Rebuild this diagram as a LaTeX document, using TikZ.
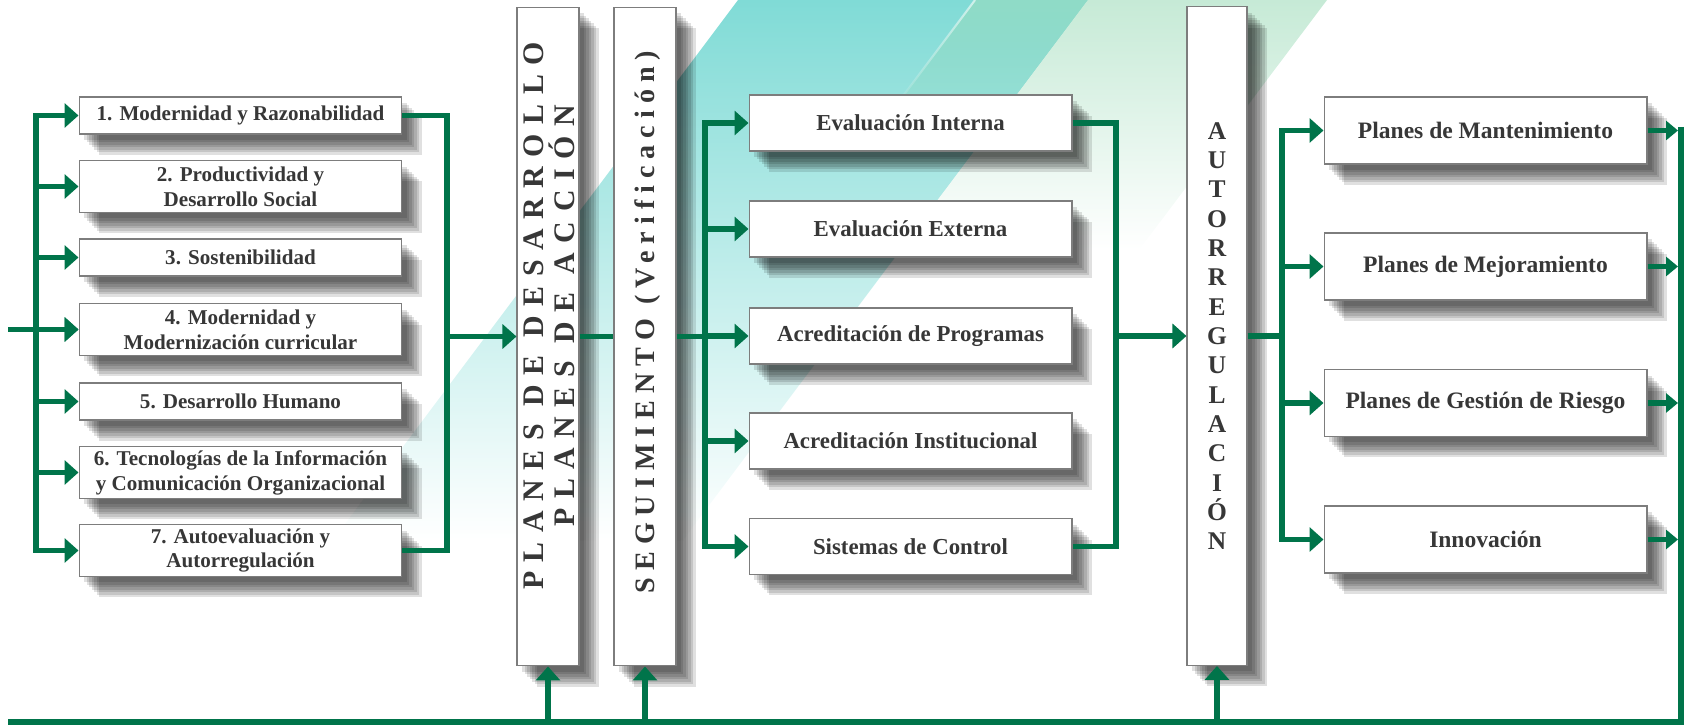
\documentclass[tikz,border=0pt]{standalone}
\usepackage{fontspec}
\setmainfont{Liberation Serif}
\usepackage{tikz}
\usetikzlibrary{arrows.meta,fadings}
\definecolor{lineGreen}{RGB}{0,116,74}
\definecolor{boxGray}{RGB}{125,125,125}
\definecolor{txtGray}{RGB}{55,55,55}
\definecolor{bandTeal}{RGB}{128,219,214}
\definecolor{bandMint}{RGB}{144,219,199}
\definecolor{bandPale}{RGB}{198,234,214}
\tikzstyle{softshadow}=[
  preaction={fill=black,opacity=0.12,transform canvas={xshift=0.40cm,yshift=-0.42cm}},
  preaction={fill=black,opacity=0.12,transform canvas={xshift=0.35cm,yshift=-0.37cm}},
  preaction={fill=black,opacity=0.12,transform canvas={xshift=0.30cm,yshift=-0.32cm}},
  preaction={fill=black,opacity=0.12,transform canvas={xshift=0.25cm,yshift=-0.27cm}},
  preaction={fill=black,opacity=0.12,transform canvas={xshift=0.20cm,yshift=-0.22cm}},
  preaction={fill=black,opacity=0.12,transform canvas={xshift=0.15cm,yshift=-0.17cm}},
  preaction={fill=black,opacity=0.12,transform canvas={xshift=0.10cm,yshift=-0.12cm}}]
\tikzstyle{item}=[softshadow,draw=boxGray,fill=white,line width=0.6pt,inner sep=0pt,align=center,text=txtGray]
\tikzstyle{leftbox}=[item,minimum width=6.46cm,minimum height=0.74cm,font=\fontsize{12}{14.2}\selectfont\bfseries]
\tikzstyle{leftbox2}=[leftbox,minimum height=1.04cm]
\tikzstyle{midbox}=[item,minimum width=6.46cm,minimum height=1.12cm,font=\fontsize{13}{15}\selectfont\bfseries]
\tikzstyle{rightbox}=[item,minimum width=6.46cm,minimum height=1.34cm,font=\fontsize{13.4}{16}\selectfont\bfseries]
\tikzstyle{tallbox}=[item,minimum width=1.24cm,minimum height=13.18cm]
\tikzstyle{vtext}=[rotate=90,align=center,text=txtGray,inner sep=0pt]
\tikzstyle{edge} = [draw,lineGreen,line width=3.4pt]
\newcommand{\wsp}{\hspace{0.6em}}

\begin{document}
\begin{tikzpicture}[x=0.02cm,y=-0.02cm]
        \tikzset{flow/.style = {edge,-{Triangle[length=0.28cm,width=0.48cm]}},
                 flowS/.style = {edge,-{Triangle[length=0.24cm,width=0.38cm]}},
                 bus/.style = {edge,line cap=rect}}
        \useasboundingbox (0,0) rectangle (1685,726);
        % background stripes
        \shade[top color=bandTeal,middle color=bandTeal!85!white,bottom color=white]
          (738,0) -- (1088,0) -- (683,540) -- (333,540) -- cycle;
        \fill[bandMint,path fading=south] (975,0) -- (1088,0) -- (975,150) -- (862,150) -- cycle;
        \draw[white,opacity=0.6,line width=1.2pt,path fading=south] (975,0) -- (885,120);
        \shade[top color=bandPale,bottom color=white]
          (1088,0) -- (1327,0) -- (1139,250) -- (900,250) -- cycle;

        % boxes
        \node[leftbox] (b1) at (240.5,115.5) {1. Modernidad y Razonabilidad};
        \node[leftbox2] (b2) at (240.5,186.5) {2. Productividad y\\Desarrollo Social};
        \node[leftbox] (b3) at (240.5,257.5) {3. Sostenibilidad};
        \node[leftbox2] (b4) at (240.5,329.5) {4. Modernidad y\\Modernización curricular};
        \node[leftbox] (b5) at (240.5,401.5) {5. Desarrollo Humano};
        \node[leftbox2] (b6) at (240.5,472.5) {6. Tecnologías de la Información\\y Comunicación Organizacional};
        \node[leftbox2] (b7) at (240.5,550.5) {7. Autoevaluación y\\Autorregulación};

        \node[tallbox] (plan) at (548,336.5) {};
        \node[tallbox] (seg) at (645,336.5) {};
        \node[vtext,font={\fontsize{17}{17.4}\selectfont\bfseries\addfontfeatures{LetterSpace=32}}]
          (planTxt) at (549,316) {PLANES\wsp DE\wsp DESARROLLO\\PLANES\wsp DE\wsp ACCIÓN};
        \node[vtext,font={\fontsize{16}{17}\selectfont\bfseries\addfontfeatures{LetterSpace=25}}]
          (segTxt) at (648,322) {SEGUIMIENTO (Verificación)};

        \node[midbox] (m1) at (910.5,123) {Evaluación Interna};
        \node[midbox] (m2) at (910.5,229) {Evaluación Externa};
        \node[midbox] (m3) at (910.5,336) {Acreditación de Programas};
        \node[midbox] (m4) at (910.5,441) {Acreditación Institucional};
        \node[midbox] (m5) at (910.5,546.5) {Sistemas de Control};

        \node[tallbox,minimum width=1.2cm,font=\fontsize{14.5}{16.7}\selectfont\bfseries] (autoreg) at (1217,336)
          {A\\U\\T\\O\\R\\R\\E\\G\\U\\L\\A\\C\\I\\Ó\\N};

        \node[rightbox] (r1) at (1485.5,130.5) {Planes de Mantenimiento};
        \node[rightbox] (r2) at (1485.5,266.5) {Planes de Mejoramiento};
        \node[rightbox] (r3) at (1485.5,403) {Planes de Gestión de Riesgo};
        \node[rightbox] (r4) at (1485.5,539.5) {Innovación};

        % connectors
        \coordinate (inL) at (8,329.5);
        \coordinate (busA) at (36,0);
        \coordinate (busB) at (447,0);
        \coordinate (busC) at (705,0);
        \coordinate (busD) at (1116,0);
        \coordinate (busE) at (1282,0);
        \coordinate (busF) at (1681,0);
        \coordinate (retL) at (8,722);

        \draw[flow] (inL) -- (b4);
        \draw[bus] (b1.west -| busA) -- (b7.west -| busA);
        \foreach \i in {1,...,7}
          \draw[flow] (b\i.west -| busA) -- (b\i.west);
        \draw[edge] (b1.east) -| (b7.east -| busB) -- (b7.east);
        \draw[flow] (plan.west -| busB) -- (plan.west);
        \draw[edge] (plan) -- (seg);
        \draw[edge] (seg.east) -- (seg.east -| busC);
        \draw[bus] (m1.west -| busC) -- (m5.west -| busC);
        \foreach \i in {1,...,5}
          \draw[flow] (m\i.west -| busC) -- (m\i.west);
        \draw[edge] (m1.east) -| (m5.east -| busD) -- (m5.east);
        \draw[flow] (autoreg.west -| busD) -- (autoreg.west);
        \draw[edge] (autoreg.east) -- (autoreg.east -| busE);
        \draw[bus] (r1.west -| busE) -- (r4.west -| busE);
        \foreach \i in {1,...,4}
          \draw[flow] (r\i.west -| busE) -- (r\i.west);
        \foreach \i in {1,...,4}
          \draw[flowS] (r\i.east) -- ([xshift=-0.06cm]r\i.east -| busF);
        \draw[edge] ([yshift=0.07cm]r1.east -| busF) |- (retL);
        \foreach \n in {plan,seg,autoreg}
          \draw[flow] (retL -| \n) -- (\n.south);
      \end{tikzpicture}
\end{document}
